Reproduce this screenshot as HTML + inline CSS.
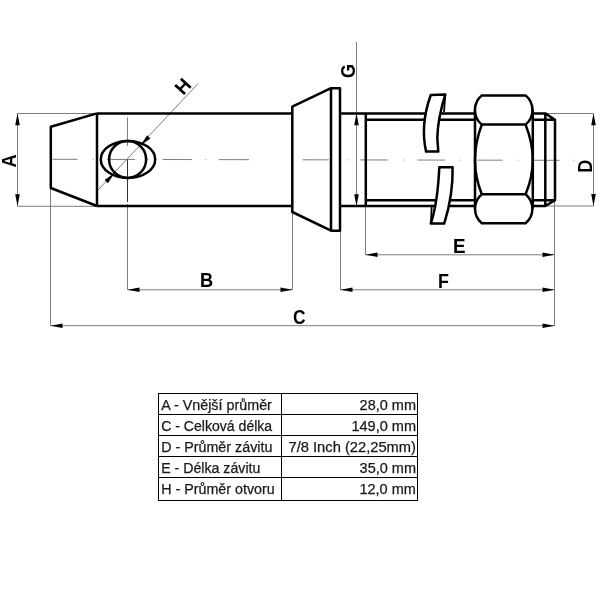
<!DOCTYPE html>
<html><head><meta charset="utf-8">
<style>
html,body{margin:0;padding:0;background:#fff;width:600px;height:600px;overflow:hidden}
svg{position:absolute;left:0;top:0;will-change:transform}
.lbl{font-family:"Liberation Sans",sans-serif;font-weight:bold;font-size:19.5px;fill:#000}
.tt{font-family:"Liberation Sans",sans-serif;font-size:14px;fill:#1a1a1a;stroke:#1a1a1a;stroke-width:0.25}
</style></head>
<body>
<svg width="600" height="600" viewBox="0 0 600 600">
<g fill="none" stroke="#7d7d7d" stroke-width="1">
  <!-- centerline -->
  <path d="M52.5 159.30L77.5 159.34 M107.0 159.40L135.0 159.46 M162.5 159.52L192.0 159.57 M218.8 159.63L249.0 159.69 M302.5 159.80L328.8 159.85 M360.0 159.91L387.5 159.97 M417.5 160.03L445.0 160.08 M477.5 160.15L502.5 160.20 M532.5 160.26L559.5 160.31"/>
  <path stroke="#c8c8c8" d="M92.0 159.37L94.0 159.38 M147.0 159.48L149.0 159.49 M204.5 159.60L206.5 159.60 M346.0 159.88L348.0 159.89 M403.0 160.00L405.0 160.00 M459.0 160.11L461.0 160.11 M516.5 160.22L518.5 160.23 M572.5 160.34L574.5 160.34"/>
  <path d="M127.5 117.5V146 M127.5 204V289.8"/>
  <path stroke="#333" d="M127.5 159.5V202"/>
  <!-- A dim -->
  <path d="M17.5 113.5H97 M17.5 206.3H97 M17.5 113.3V206.3"/>
  <!-- H dim -->
  <path d="M97.5 190.5L198 83.7"/>
  <!-- B dim -->
  <path d="M127.5 289.8H292.5 M292.5 212V289.8"/>
  <!-- C dim -->
  <path d="M50.5 188V325.7 M50.5 325.7H554.5"/>
  <!-- E dim -->
  <path d="M365.5 206V254.8 M365.5 254.8H554.5"/>
  <!-- F dim -->
  <path d="M340.5 230.7V289.8 M340.5 289.8H554.5"/>
  <path d="M554.5 200V326"/>
  <!-- G dim -->
  <path d="M356.5 42V206.3"/>
  <!-- D dim -->
  <path d="M545 113.5H593.5 M545 206H593.5 M593.5 113.3V206"/>
</g>
<!-- arrows -->
<g fill="#000" stroke="none">
  <path d="M17.5 113.3l-2.3 12h4.6z M17.5 206.3l-2.3 -12h4.6z"/>
  <path d="M127.5 289.8l12 -2.3v4.6z M292.5 289.8l-12 -2.3v4.6z"/>
  <path d="M50.5 325.7l12 -2.3v4.6z M554.5 325.7l-12 -2.3v4.6z"/>
  <path d="M365.5 254.8l12 -2.3v4.6z M554.5 254.8l-12 -2.3v4.6z"/>
  <path d="M340.5 289.8l12 -2.3v4.6z M554.5 289.8l-12 -2.3v4.6z"/>
  <path d="M356.5 113.3l-2.3 12h4.6z M356.5 206.3l-2.3 -12h4.6z"/>
  <path d="M593.5 113.3l-2.3 12h4.6z M593.5 206l-2.3 -12h4.6z"/>
  <path d="M0 0l12 -2.3v4.6z" transform="translate(114.5 173) rotate(133.5)"/>
  <path d="M0 0l12 -2.3v4.6z" transform="translate(140.5 145.5) rotate(-46.5)"/>
</g>
<!-- thick outlines -->
<g fill="none" stroke="#000" stroke-width="2.5" stroke-linejoin="round">
  <!-- chamfer + body -->
  <path d="M97 113.4L50.8 126.8V188L97 206 M97 113.4V206 M97 113.4H292.3 M97 206H292.3"/>
  <ellipse cx="128" cy="159.4" rx="27.2" ry="18.5"/>
  <circle cx="127.6" cy="159.4" r="18.5"/>
  <!-- collar -->
  <path d="M292.3 206V106.7L330.5 88.3H340V230.7H331L292.3 212V206 M331 88.3V230.7"/>
  <!-- shank after flange -->
  <path d="M340 113.4H475 M340 206H475 M365.8 113.4V206 M365.8 119.8H475 M365.8 200.2H475"/>
  <path d="M532.8 113.4H545.3L555 119.8V200.2L545.3 206H532.8 M532.8 119.8H555 M532.8 200.2H555 M545.3 113.4V206"/>
</g>
<!-- clips -->
<g fill="#fff" stroke="#000" stroke-width="2.5" stroke-linejoin="round">
  <path d="M430.75 95L445.3 94.4C440.5 110 437.5 126 437.3 138L438.3 151.6H426.1C423 138 422.5 118 430.75 95Z"/>
  <path d="M439.3 167.2H452.6C453 185 451 202 444.2 223.6H430.75C435 211 438 196 439.3 167.2Z"/>
  <path fill="none" stroke-width="1.8" d="M445.3 95L444 112.3 M431.7 206.5L430.9 223"/>
</g>
<!-- nut -->
<g fill="#fff" stroke="#000" stroke-width="2.5" stroke-linejoin="round">
  <path d="M475 109.6V208.7 M532.8 109.6V208.7"/>
  <path d="M481.8 124.6C476 140 475 150 475 160C475 170 476 180 481.8 194.2 M525.6 124.6C531.6 140 532.8 150 532.8 160C532.8 170 531.6 180 525.6 194.2" fill="none"/>
  <path d="M481.8 95.4H525.6A19 19 0 0 1 525.6 124.6H481.8A19 19 0 0 1 481.8 95.4Z"/>
  <path d="M481.8 194.2H525.6A19 19 0 0 1 525.6 223.3H481.8A19 19 0 0 1 481.8 194.2Z"/>
</g>
<!-- labels -->
<text class="lbl" transform="translate(206.75 287.30) scale(0.937 1)" x="-7.21" y="0">B</text>
<text class="lbl" transform="translate(299.5 324.2) scale(0.893 1)" x="-7.17" y="0">C</text>
<text class="lbl" transform="translate(459.50 252.70) scale(0.967 1)" x="-6.78" y="0">E</text>
<text class="lbl" transform="translate(443.75 287.60) scale(0.92 1)" x="-6.24" y="0">F</text>
<text class="lbl" transform="translate(15.50 161.00) rotate(-90) scale(0.938 1)" x="-7.02" y="0">A</text>
<text class="lbl" transform="translate(591.80 166.00) rotate(-90) scale(0.93 1)" x="-7.26" y="0">D</text>
<text class="lbl" transform="translate(354.5 71.3) rotate(-90) scale(0.923 1)" x="-7.36" y="0">G</text>
<text class="lbl" transform="translate(183 86.5) rotate(-47.5) scale(0.973 1)" x="-7.02" y="6.73">H</text>
<!-- table -->
<g fill="none" stroke="#000" stroke-width="1">
  <path d="M158 393.5H418 M158 414.5H418 M158 435.5H418 M158 456.5H418 M158 477.5H418 M158 500.5H418 M158.5 393V501 M281.5 393V501 M417.5 393V501"/>
</g>
<g class="tt">
  <text x="161.2" y="410" textLength="110.7" lengthAdjust="spacingAndGlyphs">A - Vnější průměr</text>
  <text x="161.2" y="430.8" textLength="111" lengthAdjust="spacingAndGlyphs">C - Celková délka</text>
  <text x="161.2" y="451.9" textLength="111.2" lengthAdjust="spacingAndGlyphs">D - Průměr závitu</text>
  <text x="161.2" y="472.9" textLength="99.2" lengthAdjust="spacingAndGlyphs">E - Délka závitu</text>
  <text x="161.2" y="494" textLength="113.6" lengthAdjust="spacingAndGlyphs">H - Průměr otvoru</text>
  <text x="416" y="410" text-anchor="end" textLength="56.4" lengthAdjust="spacingAndGlyphs">28,0 mm</text>
  <text x="416" y="430.8" text-anchor="end" textLength="64.6" lengthAdjust="spacingAndGlyphs">149,0 mm</text>
  <text x="416" y="451.9" text-anchor="end" textLength="127.5" lengthAdjust="spacingAndGlyphs">7/8 Inch (22,25mm)</text>
  <text x="416" y="472.9" text-anchor="end" textLength="56.4" lengthAdjust="spacingAndGlyphs">35,0 mm</text>
  <text x="416" y="494" text-anchor="end" textLength="56.6" lengthAdjust="spacingAndGlyphs">12,0 mm</text>
</g>
</svg>
</body></html>
